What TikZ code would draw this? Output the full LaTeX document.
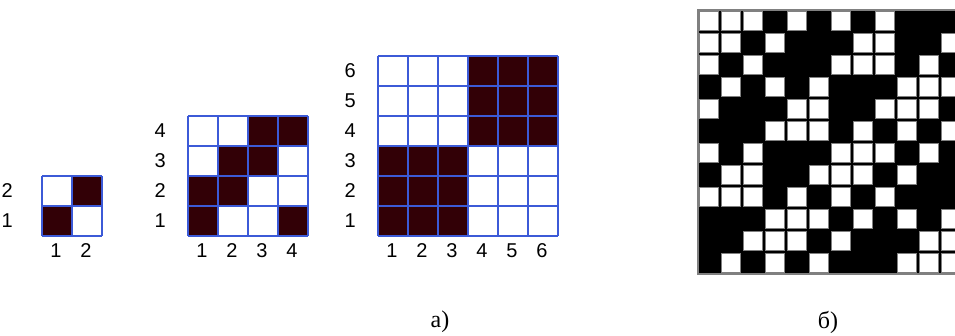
\documentclass[tikz,border=0pt]{standalone}
\usepackage{fontspec}
\setmainfont{Liberation Serif}
\newfontfamily\axisfont{Liberation Sans}
\usetikzlibrary{positioning}
\definecolor{gridblue}{RGB}{60,90,215}
\definecolor{cellred}{RGB}{50,0,6}
\definecolor{cellgray}{RGB}{128,128,128}

\begin{document}
\begin{tikzpicture}[x=1pt, y=-1pt,
    darkcell/.style={fill=cellred},
    gridline/.style={draw=gridblue, line width=1.4pt},
    axislabel/.style={font=\axisfont\fontsize{20}{20}\selectfont, inner sep=0pt},
    caption/.style={font=\fontsize{24}{24}\selectfont, inner sep=0pt},
    whitecell/.style={fill=white, draw=cellgray, line width=1pt}
]
    \clip (0,0) rectangle (955,336);
    \fill[white] (0,0) rectangle (955,336);

    % a) three grids, cell 30, common bottom line
    \foreach \c/\r in {1/1, 2/2}
        \fill[darkcell] ({42+30*(\c-1)},{236-30*\r}) rectangle +(30,30);
    \foreach \c/\r in {1/1, 4/1, 1/2, 2/2, 2/3, 3/3, 3/4, 4/4}
        \fill[darkcell] ({188+30*(\c-1)},{236-30*\r}) rectangle +(30,30);
    \fill[darkcell] (378,236) rectangle (468,146);
    \fill[darkcell] (468,146) rectangle (558,56);

    \foreach \L/\n/\g in {42/2/29, 188/4/22, 378/6/22} {
        \foreach \i in {0,...,\n} {
            \draw[gridline] ({\L+30*\i},236) -- ({\L+30*\i},{236-30*\n});
            \draw[gridline] (\L,{236-30*\i}) -- ({\L+30*\n},{236-30*\i});
        }
        \foreach \i in {1,...,\n} {
            \node[axislabel, anchor=east] (row\n-\i) at ({\L-\g},{236-30*\i+15}) {\i};
            \node[axislabel] (col\n-\i) at ({\L+30*\i-16},251) {\i};
        }
    }

    % b) 12 x 12 pattern, white cells listed per row
    \filldraw[fill=black, draw=cellgray, line width=1.5pt] (698,10) rectangle (962,274);
    \foreach \r/\cols in {1/{1,2,3,5,7,9}, 2/{1,2,4,8,9,12}, 3/{1,3,7,8,9,11},
        4/{2,4,6,10,11,12}, 5/{1,5,6,9,10,11}, 6/{4,5,6,8,10,12},
        7/{1,3,7,8,9,11}, 8/{2,3,6,7,8,10}, 9/{1,2,3,5,7,9},
        10/{4,5,6,8,10,12}, 11/{3,4,5,7,11,12}, 12/{2,4,6,10,11,12}}
        \foreach \c in \cols
            \filldraw[whitecell] ({698+22*(\c-1)+1.5},{10+22*(\r-1)+1.5}) rectangle +(19,19);

    \node[caption] (capa) at (440,322) {а)};
    \node[caption] (capb) at (828,322) {б)};
\end{tikzpicture}
\end{document}
